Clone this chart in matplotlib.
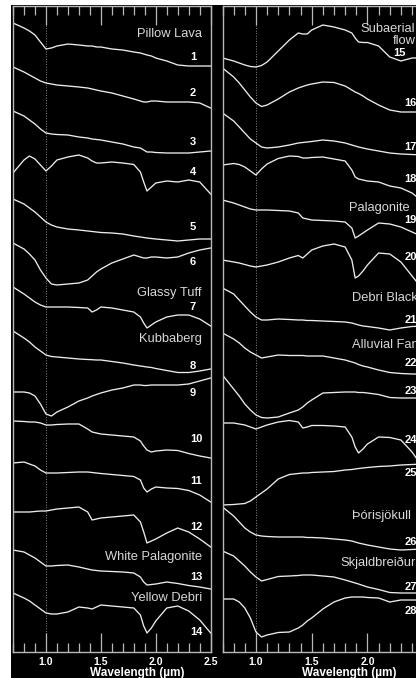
import matplotlib
matplotlib.use('Agg')
import matplotlib.pyplot as plt
from matplotlib.patches import Rectangle
from matplotlib.ticker import MultipleLocator

plt.rcParams['font.family'] = ['Liberation Sans', 'DejaVu Sans']

# Common wavelength grid (um)
wavelength = [0.70, 0.80, 0.85, 0.90, 0.95, 1.00, 1.05, 1.10, 1.20, 1.30, 1.38, 1.42, 1.46, 1.50,
              1.60, 1.70, 1.80, 1.86, 1.89, 1.92, 1.96, 2.00, 2.10, 2.20, 2.30, 2.40, 2.50]

# Stacked reflectance (offset for display, arbitrary units)
left_ids = list(range(1, 15))
left_spectra = [
    [629, 624, 621, 617, 610, 603, 604, 606, 608, 607, 606, 606, 605, 605, 603, 602, 600, 599, 598, 597, 596, 594, 591, 587, 586, 586, 586],
    [585, 580, 577, 574, 571, 569, 568, 567, 566, 565, 564, 563, 562, 561, 559, 556, 553, 551, 550, 550, 551, 551, 550, 550, 550, 549, 544],
    [541, 536, 532, 528, 523, 519, 518, 517.5, 517, 515, 514, 513, 512.5, 512, 510, 508, 505, 504, 502, 500, 500, 499.5, 499, 499, 499, 500, 501],
    [479, 492, 496, 493, 487, 481, 486, 492, 495, 497, 494, 491, 489, 489, 490, 489, 487.5, 480, 470, 461, 465, 469, 471, 470, 472, 470, 458],
    [453, 448, 444, 440, 435, 430, 427, 425, 423, 422, 421, 420.5, 420, 419.5, 419, 418, 416, 415, 414.5, 414, 413.5, 413, 412, 411, 412, 413, 413],
    [409, 403, 398, 392, 382, 374, 368, 367, 368, 369, 372, 376, 380, 383, 389, 393, 397, 395, 394, 394, 395, 395, 394, 395, 399, 402, 404],
    [365, 358, 354, 350, 347, 345, 345, 345, 345, 344.5, 344, 340, 342, 345, 344, 342, 340, 335, 329, 324, 327, 330, 335, 337, 337, 333, 326],
    [321, 314, 310, 305, 301, 297, 295.5, 295, 294, 293, 292.5, 292.3, 292, 292, 290.5, 289, 287, 286, 285.5, 285, 284.5, 283.5, 281.5, 279.5, 279.5, 281, 283],
    [260, 260, 259, 256, 248, 238, 236, 240, 245, 251, 254, 256, 257.5, 259, 262, 264, 267, 267, 266.5, 266.5, 267, 267, 267, 267, 268, 271, 274],
    [231, 230.5, 230, 230, 229, 227, 227, 227.5, 228, 228, 223, 220, 219, 218, 217, 216, 215, 211, 206, 202, 200, 201, 202, 201.5, 198.5, 196, 194],
    [189, 190, 188, 186, 182, 179, 179, 179, 179.5, 180, 180, 179.5, 179, 178.5, 177.5, 176.5, 175.5, 172, 164, 160, 163, 165, 164, 163.5, 161.5, 157, 150],
    [140, 140, 140, 140.5, 141, 141, 142, 143, 144, 145, 140, 132, 133, 134, 135, 136, 137, 130, 120, 109, 111, 113, 119, 124, 120, 113, 105],
    [102, 100, 97, 94, 90, 86, 86, 86.5, 87, 85, 83, 82, 81.5, 81, 80.5, 80, 79, 75, 70, 67, 67.5, 68, 70, 68.5, 66.5, 65, 63],
    [59, 54, 51, 47, 43, 39, 38, 38, 40, 45, 44, 43, 45, 47, 46, 45, 44, 37, 26, 19, 24, 31, 44, 46, 41, 32, 19],
]

right_ids = list(range(15, 29))
right_spectra = [
    [594, 591, 589, 587, 585.5, 585, 586.5, 590, 601, 612, 619, 618, 618, 622, 627, 625, 622, 619, 614, 610, 609.5, 609.5, 606, 595, 591, 594, 594],
    [584, 575, 569, 562, 555, 549, 545.5, 547, 553, 560, 564, 565.5, 567, 568, 570, 569.5, 566, 562, 560, 558.5, 556, 553, 547, 542, 540, 540, 540],
    [539, 531, 525, 519, 513, 509, 505, 504, 505, 507, 509, 509.5, 510, 510.5, 512, 511, 509, 507, 506, 505, 504, 503, 501, 499, 498, 497.5, 497],
    [487, 488.5, 487.5, 485, 481, 477, 483, 488, 493.5, 496, 495.5, 494, 494, 494.5, 495, 493, 491, 482, 475, 473, 472, 471, 470, 466, 464, 459, 450],
    [452, 449, 447, 445, 443, 442, 442, 442, 441.5, 441, 439, 434, 433, 432, 431.5, 431, 430, 424, 414, 416, 419, 422, 429, 428, 425, 420, 415],
    [392, 390, 389, 387.5, 386, 385, 386, 387, 390, 394, 396.5, 394, 398, 402, 406, 408, 405, 392, 374, 376, 381, 387, 399, 398, 390, 376, 362],
    [364, 358, 352, 346, 340, 335, 332, 332, 333, 332.5, 332, 332, 331.5, 331.5, 331, 330.5, 330, 329, 328, 327, 326, 325.5, 324, 322, 324, 325.5, 326],
    [319, 313, 309, 304, 300, 297, 294, 295, 297, 296.5, 296.5, 296.5, 296, 296, 296, 294, 292, 290, 289, 287.5, 286, 285, 282, 279.5, 278.5, 278, 278],
    [277, 263, 256, 248, 242, 237, 234.5, 234, 235, 239, 242, 245, 249, 252, 259, 259.5, 260, 260, 260, 259.5, 259.5, 259, 257.5, 254.5, 254, 254, 254],
    [229, 229, 228, 227, 225, 223, 225, 227, 230, 231.5, 230, 224, 225, 226.5, 226.5, 226, 225, 215, 205, 199, 203, 208, 215, 214.5, 212, 200, 184],
    [147, 147.5, 148, 148.5, 151, 155, 159, 163, 173, 177.5, 178.5, 179, 179, 179.5, 180, 180.5, 182, 182.5, 183, 183.5, 184, 184.5, 185.5, 186, 187, 187.5, 188],
    [145, 136, 130, 124, 120, 117, 116, 115.5, 115, 115, 115, 115, 114.5, 114.5, 114, 113, 112, 111, 110, 109, 108, 107, 105, 103, 102, 102.5, 103],
    [101, 96, 91, 86, 80, 75, 71, 72.5, 75.5, 76, 76.5, 77, 77, 77, 76, 75, 72, 70, 69, 68, 66.5, 65, 62.5, 59.5, 59, 59, 59],
    [53, 53, 50, 44, 34, 20, 15, 17, 19.5, 20, 24, 27, 31, 34, 43, 50, 54, 55, 55, 55, 55, 54.5, 54, 50, 52, 52, 52],
]

left_id_y = [595, 559, 510, 480, 425, 390, 345, 286, 259, 213, 171, 125, 75, 20]
right_id_y = [599, 549, 505, 473, 432, 395, 332, 289, 261, 212, 179, 110, 65, 41]

left_groups = ['Pillow Lava', 'Glassy Tuff', 'Kubbaberg', 'White Palagonite', 'Yellow Debri']
right_groups = ['Subaerial\nflow', 'Palagonite', 'Debri Black', 'Alluvial Fan',
                'Þórisjökull', 'Skjaldbreiður']

LINE = '#ececec'
FRAME = '#b8b8b8'
NAME = '#d8d8d8'


def style_axes(ax):
    ax.set_facecolor('black')
    ax.set_xlim(0.7, 2.5)
    ax.set_ylim(0, 646)
    ax.set_yticks([])
    ax.set_xticks([1.0, 1.5, 2.0, 2.5])
    ax.set_xticklabels(['1.0', '1.5', '2.0', '2.5'], fontweight='bold')
    ax.xaxis.set_minor_locator(MultipleLocator(0.1))
    ax.tick_params(axis='x', which='both', direction='in', top=True, bottom=True,
                   color=FRAME, width=0.9, labelcolor='white', labelsize=7.5, pad=3.5)
    ax.tick_params(axis='x', which='major', length=13.5)
    ax.tick_params(axis='x', which='minor', length=6.8)
    for s in ax.spines.values():
        s.set_color(FRAME)
        s.set_linewidth(1.0)
    ax.axvline(1.0, color='#8a8a8a', ls=':', lw=0.7, zorder=1)
    ax.text(0.63, -0.032, 'Wavelength (µm)', transform=ax.transAxes, ha='center',
            va='center', color='white', fontsize=8.5, fontweight='bold', clip_on=False)


def plot_panel(ax, ids, spectra, id_y, id_x):
    for i, values in enumerate(spectra):
        ax.plot(wavelength, values, color=LINE, lw=0.95, zorder=2)
        x = id_x[i] if isinstance(id_x, list) else id_x
        ax.text(x, id_y[i], str(ids[i]), color='white', fontsize=8, fontweight='bold',
                ha='left', va='center', zorder=3)


fig = plt.figure(figsize=(4.16, 6.78), dpi=100, facecolor='white')
fig.patches.append(Rectangle((11 / 416, 0), 1, 1 - 5 / 678, transform=fig.transFigure,
                             facecolor='black', edgecolor='none', zorder=-10))

bottom = 1 - 652 / 678
height = 646 / 678
ax1 = fig.add_axes([13 / 416, bottom, 197.7 / 416, height])
ax2 = fig.add_axes([222.5 / 416, bottom, 200.7 / 416, height])
style_axes(ax1)
style_axes(ax2)

plot_panel(ax1, left_ids, left_spectra, left_id_y, 2.31)
plot_panel(ax2, right_ids, right_spectra, right_id_y, [2.23] + [2.33] * 13)

# group names
left_pos = [618, 359, 313, 95, 54]
for name, y in zip(left_groups, left_pos):
    ax1.text(2.42, y, name, color=NAME, fontsize=9.3, ha='right', va='center')

right_pos = [(2.43, 617, 'right'), (2.38, 444, 'right'), (1.865, 354, 'left'),
             (1.865, 307, 'left'), (1.865, 136, 'left'), (1.758, 89, 'left')]
for name, (x, y, ha) in zip(right_groups, right_pos):
    ax2.text(x, y, name, color=NAME, fontsize=9.3, ha=ha, va='center',
             multialignment='right', linespacing=1.05, clip_on=False)

fig.savefig('out.png', dpi=100, facecolor='white')
